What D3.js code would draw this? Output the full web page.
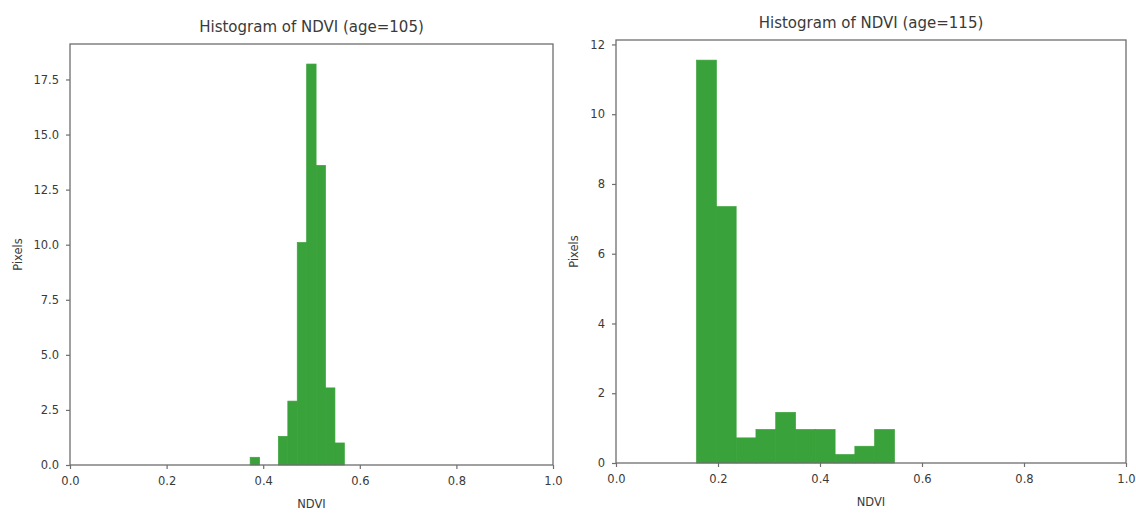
<!DOCTYPE html>
<html>
<head>
<meta charset="utf-8">
<script src="https://cdn.jsdelivr.net/npm/d3@7"></script>
<style>
  html, body { margin: 0; padding: 0; background: #fff; }
  svg { display: block; }
  text { font-family: "DejaVu Sans", sans-serif; fill: #3a3a3a; }
</style>
</head>
<body>
<svg id="chart" width="1136" height="513"></svg>
<script>
// NDVI histogram, age=105 (density; 10 equal bins between min and max)
const leftBinStart = 0.373;
const leftBinEnd = 0.568;
const leftDensity = [0.35, 0, 0, 1.3, 2.9, 10.1, 18.2, 13.6, 3.5, 1.0];
const leftYTicks = [0, 2.5, 5, 7.5, 10, 12.5, 15, 17.5];

// NDVI histogram, age=115
const rightBinStart = 0.158;
const rightBinEnd = 0.546;
const rightDensity = [11.55, 7.35, 0.72, 0.96, 1.45, 0.96, 0.96, 0.24, 0.48, 0.96];
const rightYTicks = [0, 2, 4, 6, 8, 10, 12];

const xTicks = [0, 0.2, 0.4, 0.6, 0.8, 1.0];
const titles = ["Histogram of NDVI (age=105)", "Histogram of NDVI (age=115)"];
const xLabel = "NDVI";
const yLabel = "Pixels";

const svg = d3.select("#chart");
const barColor = "#3aa23a";
const spineColor = "#6e6e6e";

function drawPanel(cfg) {
  const { box, start, end, density, yTicks, yFormat, title, yLabelGap } = cfg;
  const g = svg.append("g");
  const x = d3.scaleLinear().domain([0, 1]).range([box.left, box.right]);
  const yMax = d3.max(density) * 1.05;
  const y = d3.scaleLinear().domain([0, yMax]).range([box.bottom, box.top]);

  const n = density.length;
  const w = (end - start) / n;
  const bins = density.map((d, i) => ({ x0: start + i * w, x1: start + (i + 1) * w, v: d }));

  g.selectAll("rect.bar")
    .data(bins.filter(b => b.v > 0))
    .join("rect")
    .attr("class", "bar")
    .attr("x", d => x(d.x0))
    .attr("width", d => x(d.x1) - x(d.x0))
    .attr("y", d => y(d.v))
    .attr("height", d => y(0) - y(d.v))
    .attr("fill", barColor)
    .attr("stroke", barColor)
    .attr("stroke-width", 0.7);

  // frame
  g.append("rect")
    .attr("x", box.left).attr("y", box.top)
    .attr("width", box.right - box.left).attr("height", box.bottom - box.top)
    .attr("fill", "none").attr("stroke", spineColor).attr("stroke-width", 1.3);

  const xAxis = d3.axisBottom(x).tickValues(xTicks).tickFormat(d3.format(".1f"))
    .tickSize(4).tickPadding(8);
  const gx = g.append("g").attr("transform", `translate(0,${box.bottom})`).call(xAxis);
  gx.select(".domain").remove();
  gx.selectAll(".tick line").attr("stroke", spineColor).attr("stroke-width", 1.2);
  gx.selectAll(".tick text").attr("font-size", 11.5).attr("fill", "#3a3a3a")
    .attr("font-family", "DejaVu Sans, sans-serif");

  const yAxis = d3.axisLeft(y).tickValues(yTicks).tickFormat(yFormat)
    .tickSize(4).tickPadding(7);
  const gy = g.append("g").attr("transform", `translate(${box.left},0)`).call(yAxis);
  gy.select(".domain").remove();
  gy.selectAll(".tick line").attr("stroke", spineColor).attr("stroke-width", 1.2);
  gy.selectAll(".tick text").attr("font-size", 11.5).attr("fill", "#3a3a3a")
    .attr("font-family", "DejaVu Sans, sans-serif");

  g.append("text")
    .attr("x", (box.left + box.right) / 2).attr("y", box.top - 12)
    .attr("text-anchor", "middle").attr("font-size", 15)
    .text(title);

  g.append("text")
    .attr("x", (box.left + box.right) / 2).attr("y", box.bottom + 43)
    .attr("text-anchor", "middle").attr("font-size", 11.5)
    .text(xLabel);

  g.append("text")
    .attr("transform", `translate(${box.left - yLabelGap},${(box.top + box.bottom) / 2}) rotate(-90)`)
    .attr("text-anchor", "middle").attr("font-size", 11.5)
    .text(yLabel);
}

drawPanel({
  box: { left: 70, right: 553, top: 44, bottom: 465 },
  start: leftBinStart, end: leftBinEnd, density: leftDensity,
  yTicks: leftYTicks, yFormat: d3.format(".1f"), title: titles[0], yLabelGap: 48
});

drawPanel({
  box: { left: 616, right: 1126, top: 40, bottom: 463 },
  start: rightBinStart, end: rightBinEnd, density: rightDensity,
  yTicks: rightYTicks, yFormat: d3.format("d"), title: titles[1], yLabelGap: 38
});
</script>
</body>
</html>
